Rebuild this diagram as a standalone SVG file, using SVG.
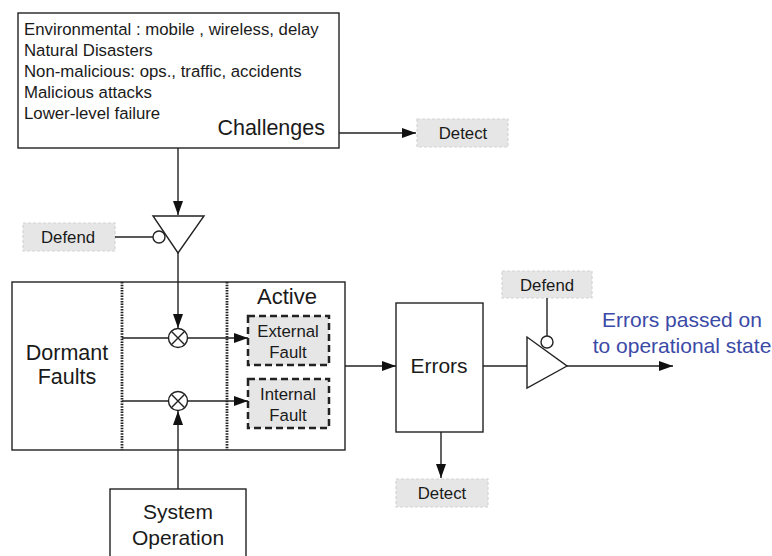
<svg xmlns="http://www.w3.org/2000/svg" width="772" height="556" viewBox="0 0 772 556">
<defs>
<marker id="arr" viewBox="0 0 14 10" refX="14" refY="5" markerWidth="14" markerHeight="10" markerUnits="userSpaceOnUse" orient="auto">
<path d="M0,0 L14,5 L0,10 Z" fill="#111"/>
</marker>
</defs>
<style>
text{font-family:"Liberation Sans",Arial,sans-serif;fill:#1a1a1a}
.box{fill:#fff;stroke:#222;stroke-width:1.4}
.tag{fill:#e6e6e6;stroke:#d4d4d4;stroke-width:1.2;stroke-dasharray:3,2}
.fault{fill:#e6e6e6;stroke:#222;stroke-width:2.5;stroke-dasharray:7,4}
.ln{fill:none;stroke:#222;stroke-width:1.4}
.dot{fill:none;stroke:#222;stroke-width:2.8;stroke-dasharray:1.5,1.2}
.s17{font-size:16.8px}
.t{font-size:16.8px;text-anchor:middle}
.big{font-size:21px;text-anchor:middle}
.blue{font-size:21px;text-anchor:middle;fill:#3b4aa6}
</style>
<g id="challenges">
<rect class="box" x="18" y="13" width="321" height="135"/>
<text class="s17" x="24" y="35">Environmental : mobile , wireless, delay</text>
<text class="s17" x="24" y="56">Natural Disasters</text>
<text class="s17" x="24" y="77">Non-malicious: ops., traffic, accidents</text>
<text class="s17" x="24" y="98">Malicious attacks</text>
<text class="s17" x="24" y="119">Lower-level failure</text>
<text x="325" y="135" style="font-size:21.5px;text-anchor:end">Challenges</text>
</g>
<g id="detect1">
<rect class="tag" x="417" y="119" width="91" height="28"/>
<text class="t" x="463" y="139">Detect</text>
</g>
<g id="defend1">
<rect class="tag" x="23" y="223" width="92" height="28"/>
<text class="t" x="68" y="243">Defend</text>
</g>
<g id="gate1">
<path class="ln" d="M153,216 L204,216 L178,253 Z" fill="#fff"/>
<circle class="ln" cx="159" cy="237" r="6" fill="#fff"/>
</g>
<g id="faults">
<rect class="box" x="12" y="282" width="333" height="168"/>
<line class="dot" x1="122" y1="282" x2="122" y2="450"/>
<line class="dot" x1="227" y1="282" x2="227" y2="450"/>
<text class="big" x="67" y="360" style="font-size:21.5px">Dormant</text>
<text class="big" x="67" y="384" style="font-size:21.5px">Faults</text>
<text class="big" x="287" y="304" style="font-size:22px">Active</text>
</g>
<g id="external">
<rect class="fault" x="248" y="316" width="81" height="49"/>
<text class="t" x="288" y="337">External</text>
<text class="t" x="288" y="358">Fault</text>
</g>
<g id="internal">
<rect class="fault" x="248" y="379" width="81" height="49"/>
<text class="t" x="288" y="400">Internal</text>
<text class="t" x="288" y="421">Fault</text>
</g>
<g id="mix1">
<circle class="ln" cx="178" cy="338" r="9.5" fill="#fff"/>
<path class="ln" d="M171.3,331.3 L184.7,344.7 M184.7,331.3 L171.3,344.7"/>
</g>
<g id="mix2">
<circle class="ln" cx="178" cy="401" r="9.5" fill="#fff"/>
<path class="ln" d="M171.3,394.3 L184.7,407.7 M184.7,394.3 L171.3,407.7"/>
</g>
<g id="sysop">
<rect class="box" x="110" y="489" width="136" height="70"/>
<text class="big" x="178" y="519">System</text>
<text class="big" x="178" y="545">Operation</text>
</g>
<g id="errors">
<rect class="box" x="396" y="303" width="87" height="129"/>
<text class="big" x="439" y="373">Errors</text>
</g>
<g id="defend2">
<rect class="tag" x="502" y="271" width="90" height="27"/>
<text class="t" x="547" y="291">Defend</text>
</g>
<g id="gate2">
<path class="ln" d="M527,337 L527,388 L567,366 Z" fill="#fff"/>
<circle class="ln" cx="547" cy="342" r="6" fill="#fff"/>
</g>
<g id="detect2">
<rect class="tag" x="396" y="479" width="92" height="28"/>
<text class="t" x="442" y="499">Detect</text>
</g>
<g id="output">
<text class="blue" x="682" y="327">Errors passed on</text>
<text class="blue" x="682" y="353">to operational state</text>
</g>
<g id="connectors">
<line class="ln" x1="339" y1="133" x2="416" y2="133" marker-end="url(#arr)"/>
<line class="ln" x1="178" y1="148" x2="178" y2="215" marker-end="url(#arr)"/>
<line class="ln" x1="115" y1="237" x2="153" y2="237"/>
<line class="ln" x1="178" y1="253" x2="178" y2="328" marker-end="url(#arr)"/>
<line class="ln" x1="122" y1="338" x2="168.5" y2="338"/>
<line class="ln" x1="187.5" y1="338" x2="248" y2="338" marker-end="url(#arr)"/>
<line class="ln" x1="122" y1="401" x2="168.5" y2="401"/>
<line class="ln" x1="187.5" y1="401" x2="248" y2="401" marker-end="url(#arr)"/>
<line class="ln" x1="178" y1="489" x2="178" y2="411" marker-end="url(#arr)"/>
<line class="ln" x1="345" y1="366" x2="396" y2="366" marker-end="url(#arr)"/>
<line class="ln" x1="483" y1="366" x2="527" y2="366"/>
<line class="ln" x1="547" y1="298" x2="547" y2="336"/>
<line class="ln" x1="567" y1="366" x2="673" y2="366" marker-end="url(#arr)"/>
<line class="ln" x1="441" y1="432" x2="441" y2="478" marker-end="url(#arr)"/>
</g>
</svg>
